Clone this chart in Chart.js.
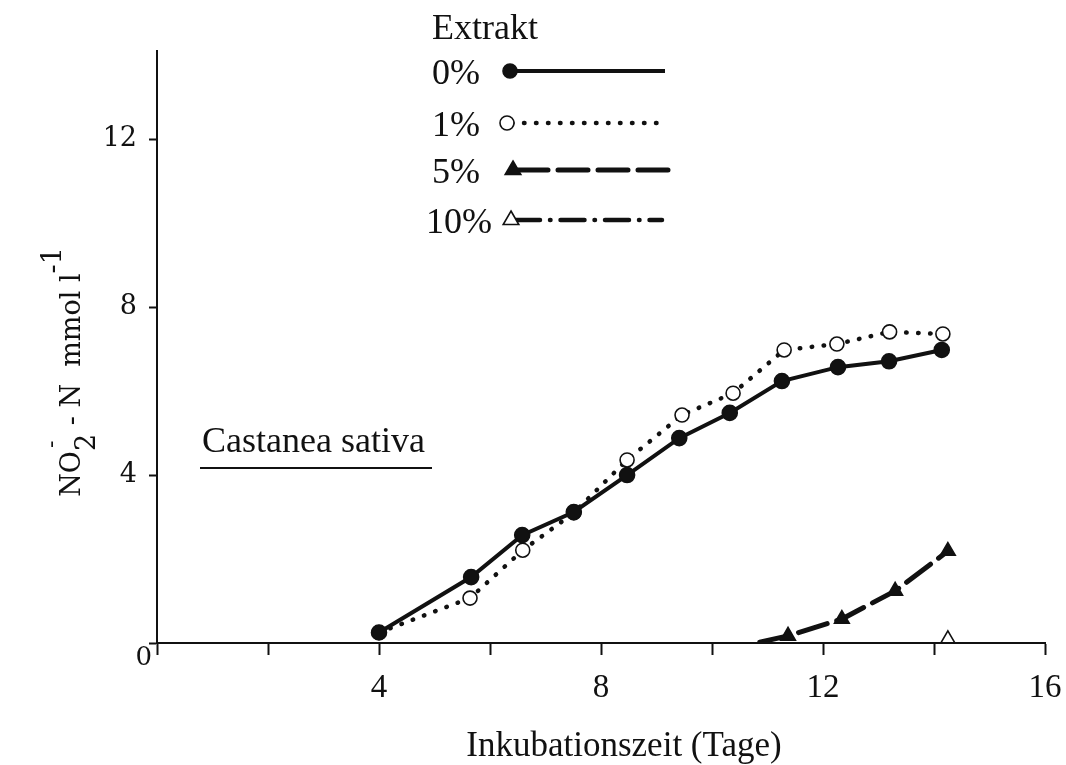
<!DOCTYPE html>
<html>
<head>
<meta charset="utf-8">
<script src="https://cdn.jsdelivr.net/npm/chart.js@4.4.1/dist/chart.umd.min.js"></script>
<style>
  html, body { margin: 0; padding: 0; background: #ffffff; }
  #wrap { width: 1066px; height: 765px; position: relative; }
</style>
</head>
<body>
<div id="wrap"><canvas id="chart" width="1066" height="765"></canvas></div>
<script>
// Nitrite over incubation time, Castanea sativa, for 4 extract concentrations
// values (days, mmol/l)

const days0 = [4, 5.66, 6.58, 7.51, 8.47, 9.41, 10.32, 11.26, 12.27, 13.19, 14.14];
const extrakt0 = [0.25, 1.57, 2.57, 3.12, 4.0, 4.88, 5.48, 6.24, 6.57, 6.71, 6.98];

const days1 = [4, 5.64, 6.59, 7.51, 8.47, 9.46, 10.38, 11.3, 12.25, 13.2, 14.16];
const extrakt1 = [0.25, 1.07, 2.21, 3.1, 4.36, 5.43, 5.95, 6.98, 7.12, 7.41, 7.36];

const days5 = [10.86, 11.37, 12.34, 13.3, 14.25];
const extrakt5 = [0.02, 0.17, 0.57, 1.24, 2.19];

const days10 = [14.25];
const extrakt10 = [0.1];

const seriesLabels = ["0%", "1%", "5%", "10%"];
const xTickLabels = [4, 8, 12, 16];
const yTickValues = [0, 4, 8, 12];

const serif = "'Liberation Serif', 'Times New Roman', serif";
const serif2 = "'DejaVu Serif', serif";

// helper: zip x and y arrays into {x, y} points
function pts(xs, ys) {
  return xs.map((x, i) => ({ x: x, y: ys[i] }));
}

// line styles shared by plot and hand drawn legend
const styles = [
  { dash: [], width: 4, point: "circle", radius: 7.5, fill: "#111", cap: "butt" },
  { dash: [0.5, 11.5], width: 4.5, point: "circle", radius: 7, fill: "#fff", cap: "round" },
  { dash: [30, 10], width: 5, point: "triangle", radius: 9, fill: "#111", cap: "round" },
  { dash: [24, 10, 0.5, 10], width: 4.5, point: "triangle", radius: 8, fill: "#fff", cap: "round" }
];

function makeSet(i, data, radii) {
  const s = styles[i];
  return {
    label: seriesLabels[i],
    data: data,
    borderColor: "#111",
    borderWidth: s.width,
    borderDash: s.dash,
    borderCapStyle: s.cap,
    tension: 0,
    pointStyle: s.point,
    pointRadius: radii || s.radius,
    pointBackgroundColor: s.fill,
    pointBorderColor: "#111",
    pointBorderWidth: 1.6
  };
}

// draws a marker like the ones in the plot
function marker(ctx, kind, x, y, r, fill) {
  ctx.save();
  ctx.setLineDash([]);
  ctx.lineWidth = 1.6;
  ctx.strokeStyle = "#111";
  ctx.fillStyle = fill;
  ctx.beginPath();
  if (kind === "circle") {
    ctx.arc(x, y, r, 0, Math.PI * 2);
  } else {
    ctx.moveTo(x, y - r);
    ctx.lineTo(x + r * 0.866, y + r * 0.5);
    ctx.lineTo(x - r * 0.866, y + r * 0.5);
    ctx.closePath();
  }
  ctx.fill();
  ctx.stroke();
  ctx.restore();
}

const annotations = {
  id: "annotations",
  afterDraw(chart) {
    const ctx = chart.ctx;
    ctx.save();
    ctx.fillStyle = "#111";
    ctx.strokeStyle = "#111";

    // ---- legend block at the top ----
    ctx.font = "36px " + serif;
    ctx.textAlign = "left";
    ctx.textBaseline = "alphabetic";
    ctx.fillText("Extrakt", 432, 39);

    const rowY = [71, 123, 170, 220];
    const lineStart = [510, 507, 513, 511];
    const lineEnd = [665, 663, 668, 662];
    for (let i = 0; i < 4; i++) {
      const s = styles[i];
      ctx.font = "36px " + serif;
      ctx.fillStyle = "#111";
      ctx.fillText(seriesLabels[i], i === 3 ? 426 : 432, rowY[i] + 13);
      ctx.save();
      ctx.lineWidth = s.width;
      ctx.setLineDash(s.dash);
      ctx.lineCap = s.cap;
      ctx.beginPath();
      ctx.moveTo(lineStart[i] + 5, rowY[i]);
      ctx.lineTo(lineEnd[i], rowY[i]);
      ctx.stroke();
      ctx.restore();
      marker(ctx, s.point, lineStart[i], rowY[i], s.point === "circle" ? 7 : 9, s.fill);
    }

    // ---- species name ----
    ctx.font = "36px " + serif;
    ctx.fillStyle = "#111";
    ctx.fillText("Castanea sativa", 202, 452);
    ctx.lineWidth = 2;
    ctx.beginPath();
    ctx.moveTo(200, 468);
    ctx.lineTo(432, 468);
    ctx.stroke();

    // ---- zero at the origin ----
    ctx.font = "26px " + serif2;
    ctx.textAlign = "right";
    ctx.fillText("0", 152, 665);

    // ---- x axis title ----
    ctx.font = "35px " + serif;
    ctx.textAlign = "center";
    ctx.fillText("Inkubationszeit (Tage)", 624, 756);

    // ---- y axis title with sub/superscripts, rotated ----
    ctx.translate(80, 372);
    ctx.rotate(-Math.PI / 2);
    ctx.textAlign = "left";
    const big = "27px " + serif2;
    const small = "22px " + serif2;
    const parts = [
      { t: "NO", f: big, dy: 0 },
      { t: "2", f: big, dy: 15 },
      { t: " - N  mmol l", f: big, dy: 0 },
      { t: "-1", f: big, dy: -19 }
    ];
    let total = 0;
    parts.forEach(p => { ctx.font = p.f; p.w = ctx.measureText(p.t).width; total += p.w; });
    let x = -total / 2;
    parts.forEach((p, i) => {
      ctx.font = p.f;
      ctx.fillText(p.t, x, p.dy);
      if (i === 1) {
        ctx.font = small;
        ctx.fillText("-", x + 3, -22);
      }
      x += p.w;
    });
    ctx.restore();
  }
};

new Chart(document.getElementById("chart"), {
  type: "line",
  data: {
    datasets: [
      makeSet(0, pts(days0, extrakt0)),
      makeSet(1, pts(days1, extrakt1)),
      makeSet(2, pts(days5, extrakt5), [0, 8.5, 8.5, 8.5, 8.5]),
      makeSet(3, pts(days10, extrakt10))
    ]
  },
  options: {
    responsive: false,
    animation: false,
    layout: { padding: { top: 51, right: 21, left: 0, bottom: 0 } },
    plugins: { legend: { display: false }, tooltip: { enabled: false } },
    scales: {
      x: {
        type: "linear",
        min: 0,
        max: 16,
        afterFit: s => { s.height = 122; s.paddingRight = 10; },
        ticks: {
          stepSize: 2,
          autoSkip: false,
          maxRotation: 0,
          padding: 14,
          color: "#111",
          font: { family: serif, size: 33 },
          callback: v => (xTickLabels.includes(v) ? String(v) : "")
        },
        grid: { drawOnChartArea: false, drawTicks: true, tickLength: 12, tickColor: "#111", tickWidth: 2 },
        border: { color: "#111", width: 2 }
      },
      y: {
        min: 0,
        max: 14.1,
        afterFit: s => { s.width = 157; },
        afterBuildTicks: s => { s.ticks = yTickValues.map(v => ({ value: v })); },
        ticks: {
          padding: 12,
          color: "#111",
          font: { family: serif2, size: 27 },
          callback: v => (v === 0 ? "" : String(v))
        },
        grid: { drawOnChartArea: false, drawTicks: true, tickLength: 8, tickColor: "#111", tickWidth: 2 },
        border: { color: "#111", width: 2 }
      }
    }
  },
  plugins: [annotations]
});
</script>
</body>
</html>
